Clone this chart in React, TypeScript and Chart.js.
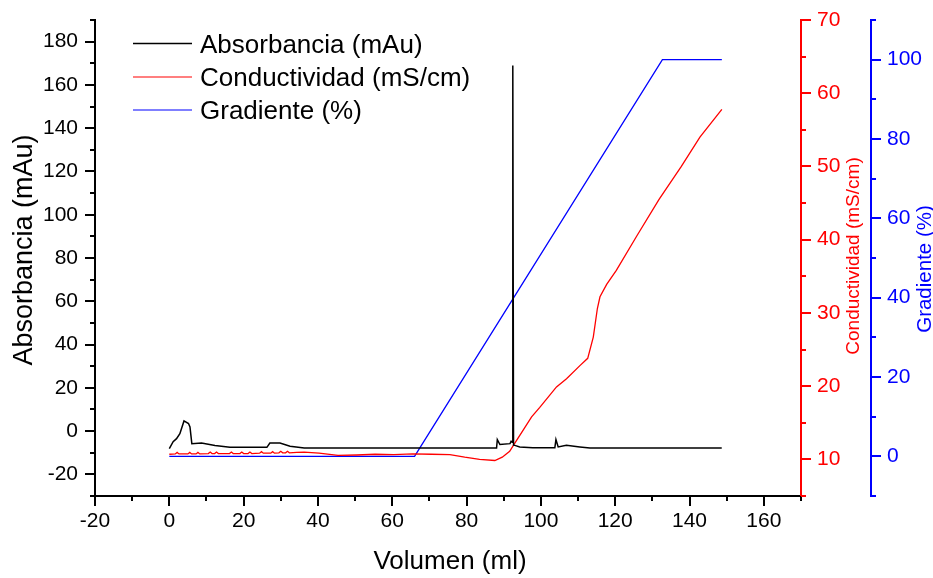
import React, { useEffect, useRef } from "react";
import { Chart, registerables } from "chart.js";

Chart.register(...registerables);

// ---------- data ----------
const absVol = [0, 1.03, 1.94, 2.84, 3.95, 5.16, 5.56, 6.06, 8.67, 12.29, 16.31, 26.26, 27.06, 29.78, 32.49, 36.31, 88.07, 88.27, 88.97, 91.69, 91.99, 92.29, 92.44, 92.64, 92.99, 94.3, 97.82, 103.75, 104.05, 104.65, 106.86, 110.48, 113.19, 148.67];
const absVal = [-8.1, -4.9, -3.5, -1.2, 4.7, 3.5, 1.9, -5.8, -5.5, -6.7, -7.5, -7.5, -5.5, -5.5, -7.0, -7.8, -7.8, -3.9, -6.2, -5.8, -4.7, -5.2, 169, -6.5, -6.6, -7.3, -7.7, -7.7, -3.9, -7.3, -6.6, -7.3, -7.8, -7.8];

const condVol = [0, 1.6, 2.1, 2.6, 5.0, 5.5, 6.0, 7.2, 7.7, 8.2, 10.5, 11.0, 11.5, 12.2, 12.7, 13.2, 16.2, 16.7, 17.2, 19.0, 19.5, 20.0, 21.2, 21.7, 22.2, 24.3, 24.8, 25.3, 27.3, 27.8, 28.3, 29.5, 30.0, 30.5, 31.3, 31.8, 32.3, 34.3, 36.3, 40.3, 45.4, 50.4, 55.4, 60.4, 65.5, 70.5, 75.5, 79.5, 83.5, 87.6, 89.6, 91.6, 92.6, 95.1, 97.5, 99.7, 104.2, 106.9, 110.5, 112.6, 114.1, 115.2, 115.9, 117.7, 120.3, 125.8, 131.8, 137.8, 142.8, 148.7];
const condVal = [10.7, 10.75, 10.95, 10.75, 10.75, 10.95, 10.75, 10.75, 10.95, 10.75, 10.8, 11.0, 10.8, 10.8, 11.0, 10.8, 10.8, 11.0, 10.8, 10.8, 11.0, 10.8, 10.8, 11.0, 10.8, 10.85, 11.05, 10.85, 10.85, 11.05, 10.85, 10.9, 11.1, 10.9, 10.9, 11.1, 10.9, 10.95, 11.0, 10.85, 10.55, 10.6, 10.7, 10.65, 10.75, 10.7, 10.65, 10.3, 10.0, 9.85, 10.3, 11.1, 11.9, 13.9, 15.8, 17.1, 19.9, 21.0, 22.8, 23.8, 26.7, 30.6, 32.2, 33.9, 35.8, 40.5, 45.5, 50.0, 54.0, 57.8];

const gradVol = [0, 66.0, 132.7, 148.7];
const gradVal = [0, 0, 100, 100];

// ---------- ticks ----------
const volTicks = [-20, 0, 20, 40, 60, 80, 100, 120, 140, 160];
const volMinor = [-10, 10, 30, 50, 70, 90, 110, 130, 150, 170];
const absTicks = [-20, 0, 20, 40, 60, 80, 100, 120, 140, 160, 180];
const absMinor = [-30, -10, 10, 30, 50, 70, 90, 110, 130, 150, 170, 190];
const condTicks = [10, 20, 30, 40, 50, 60, 70];
const condMinor = [5, 15, 25, 35, 45, 55, 65];
const gradTicks = [0, 20, 40, 60, 80, 100];
const gradMinor = [-10, 10, 30, 50, 70, 90, 110];

const seriesNames = ["Absorbancia (mAu)", "Conductividad (mS/cm)", "Gradiente (%)"];
const xTitle = "Volumen (ml)";

const FONT = "'Liberation Sans', Arial, Helvetica, sans-serif";
const BLACK = "#000000";
const RED = "#ff0000";
const BLUE = "#0000ff";

const toPoints = (xs: number[], ys: number[]) => xs.map((x, i) => ({ x, y: ys[i] }));

const setTicks = (vals: number[]) => (scale: any) => {
  scale.ticks = vals.map((v) => ({ value: v }));
};

const decorPlugin = {
  id: "decor",
  afterDraw(chart: any) {
    const ctx = chart.ctx as CanvasRenderingContext2D;
    ctx.save();
    // minor ticks
    const minorDefs = [
      { id: "x", vals: volMinor, color: BLACK },
      { id: "y", vals: absMinor, color: BLACK },
      { id: "yc", vals: condMinor, color: RED },
      { id: "yg", vals: gradMinor, color: BLUE },
    ];
    ctx.lineWidth = 2;
    for (const d of minorDefs) {
      const s = chart.scales[d.id];
      ctx.strokeStyle = d.color;
      ctx.beginPath();
      for (const v of d.vals) {
        const p = Math.round(s.getPixelForValue(v));
        if (s.isHorizontal()) {
          ctx.moveTo(p, s.top);
          ctx.lineTo(p, s.top + 5);
        } else if (s.position === "left") {
          ctx.moveTo(s.right, p);
          ctx.lineTo(s.right - 5, p);
        } else {
          ctx.moveTo(s.left, p);
          ctx.lineTo(s.left + 5, p);
        }
      }
      ctx.stroke();
    }

    // axis titles
    ctx.fillStyle = BLACK;
    ctx.font = `27px ${FONT}`;
    ctx.textAlign = "center";
    ctx.textBaseline = "alphabetic";
    ctx.save();
    ctx.translate(31.5, 250);
    ctx.rotate(-Math.PI / 2);
    ctx.fillText(seriesNames[0], 0, 0);
    ctx.restore();

    ctx.font = `26px ${FONT}`;
    ctx.fillText(xTitle, 450, 569);

    ctx.fillStyle = RED;
    ctx.font = `19px ${FONT}`;
    ctx.save();
    ctx.translate(859, 256);
    ctx.rotate(-Math.PI / 2);
    ctx.fillText(seriesNames[1], 0, 0);
    ctx.restore();

    ctx.fillStyle = BLUE;
    ctx.font = `20.5px ${FONT}`;
    ctx.save();
    ctx.translate(931, 269);
    ctx.rotate(-Math.PI / 2);
    ctx.fillText(seriesNames[2], 0, 0);
    ctx.restore();

    // legend
    const colors = [BLACK, RED, BLUE];
    const rows = [43.5, 77, 110];
    ctx.textAlign = "left";
    ctx.font = `26px ${FONT}`;
    rows.forEach((yy, i) => {
      ctx.strokeStyle = colors[i];
      ctx.lineWidth = i === 0 ? 1.6 : 1.2;
      ctx.beginPath();
      ctx.moveTo(133, yy);
      ctx.lineTo(192, yy);
      ctx.stroke();
      ctx.fillStyle = BLACK;
      ctx.fillText(seriesNames[i], 200, yy + 9.3);
    });
    ctx.restore();
  },
};

const axisCommon = (color: string, fontSize: number, padding: number) => ({
  ticks: {
    color,
    font: { family: FONT, size: fontSize },
    padding,
    autoSkip: false,
    maxRotation: 0,
    callback: (v: any) => String(v),
  },
  grid: {
    drawOnChartArea: false,
    drawTicks: true,
    tickLength: 10,
    tickWidth: 2,
    lineWidth: 2,
    color,
    tickColor: color,
  },
  border: { display: true, color, width: 2 },
});

export default function App() {
  const ref = useRef<HTMLCanvasElement | null>(null);

  useEffect(() => {
    if (!ref.current) return;
    const chart = new Chart(ref.current, {
      type: "line",
      data: {
        datasets: [
          {
            label: seriesNames[0],
            data: toPoints(absVol, absVal),
            borderColor: BLACK,
            borderWidth: 1.5,
            pointRadius: 0,
            yAxisID: "y",
            tension: 0,
          },
          {
            label: seriesNames[1],
            data: toPoints(condVol, condVal),
            borderColor: RED,
            borderWidth: 1.3,
            pointRadius: 0,
            yAxisID: "yc",
            tension: 0,
          },
          {
            label: seriesNames[2],
            data: toPoints(gradVol, gradVal),
            borderColor: BLUE,
            borderWidth: 1.3,
            pointRadius: 0,
            yAxisID: "yg",
            tension: 0,
          },
        ],
      },
      options: {
        responsive: false,
        animation: false,
        layout: { padding: { top: 20, left: 0, right: 0, bottom: 0 } },
        plugins: { legend: { display: false }, tooltip: { enabled: false } },
        scales: {
          x: {
            type: "linear",
            position: "bottom",
            min: -20,
            max: 170,
            ...axisCommon(BLACK, 21, 3),
            afterBuildTicks: setTicks(volTicks),
            afterFit: (s: any) => {
              s.height = 82;
            },
          },
          y: {
            type: "linear",
            position: "left",
            min: -30,
            max: 190,
            ...axisCommon(BLACK, 21, 7),
            afterBuildTicks: setTicks(absTicks),
            afterFit: (s: any) => {
              s.width = 95;
            },
          },
          yc: {
            type: "linear",
            position: "right",
            weight: 0,
            min: 5,
            max: 70,
            ...axisCommon(RED, 21, 6),
            afterBuildTicks: setTicks(condTicks),
            afterFit: (s: any) => {
              s.width = 70;
            },
          },
          yg: {
            type: "linear",
            position: "right",
            weight: 1,
            min: -10,
            max: 110,
            ...axisCommon(BLUE, 21, 6),
            afterBuildTicks: setTicks(gradTicks),
            afterFit: (s: any) => {
              s.width = 62;
            },
          },
        },
      } as any,
      plugins: [decorPlugin],
    });
    return () => chart.destroy();
  }, []);

  return (
    <div style={{ position: "fixed", left: 0, top: 0, width: 933, height: 578, background: "#fff" }}>
      <canvas ref={ref} width={933} height={578} style={{ display: "block" }} />
    </div>
  );
}
